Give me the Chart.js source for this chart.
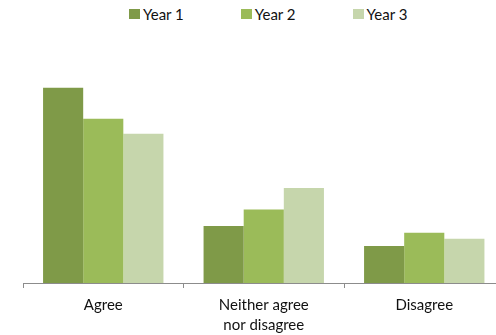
<!DOCTYPE html>
<html>
<head>
<meta charset="utf-8">
<script src="https://cdn.jsdelivr.net/npm/chart.js@4/dist/chart.umd.min.js"></script>
<style>
  html, body { margin: 0; padding: 0; background: #fff; overflow: hidden; }
  body { width: 496px; height: 335px; position: relative; }
  #legend { position: absolute; top: 5px; left: 129px; display: flex; gap: 57px;
            font: 15px Lato, sans-serif; color: #111; }
  #legend .item { display: flex; align-items: center; }
  #legend .box { width: 11px; height: 10px; margin-right: 3px; }
  #wrap { position: absolute; left: 0; top: 0; width: 520px; height: 345px; }
</style>
</head>
<body>
<div id="legend"></div>
<div id="wrap"><canvas id="chart" width="520" height="345"></canvas></div>
<script>
'use strict';

const CATEGORIES = ['Agree', ['Neither agree', 'nor disagree'], 'Disagree'];
const SERIES     = ['Year 1', 'Year 2', 'Year 3'];
const YEAR1      = [67.6, 19.7, 12.8];
const YEAR2      = [56.9, 25.5, 17.4];
const YEAR3      = [51.7, 32.9, 15.3];
const COLORS     = ['#7f9a48', '#9bbb59', '#c6d6ac'];

// ── HTML legend ──────────────────────────────────────────────────────────────

const htmlLegend = {
    id: 'htmlLegend',
    afterUpdate(chart) {
        const box = document.getElementById('legend');
        box.innerHTML = '';
        chart.data.datasets.forEach(ds => {
            const item = document.createElement('div');
            item.className = 'item';
            item.innerHTML = `<span class="box" style="background:${ds.backgroundColor}"></span><span>${ds.label}</span>`;
            box.appendChild(item);
        });
    }
};

// ── Chart ────────────────────────────────────────────────────────────────────

const values = [YEAR1, YEAR2, YEAR3];

new Chart(document.getElementById('chart'), {
    type: 'bar',
    data: {
        labels: CATEGORIES,
        datasets: SERIES.map((name, i) => ({
            label: name,
            data: values[i],
            backgroundColor: COLORS[i],
            borderWidth: 0,
            barPercentage: 1.0,
            categoryPercentage: 0.75,
        }))
    },
    options: {
        responsive: false,
        animation: false,
        layout: { padding: { left: 23, right: 15.5, top: 52, bottom: 3 } },
        plugins: { legend: { display: false }, tooltip: { enabled: false } },
        scales: {
            x: {
                grid: { display: true, drawOnChartArea: false, offset: true, tickLength: 5, color: '#8c8c8c' },
                border: { display: true, color: '#8c8c8c', width: 1 },
                ticks: { color: '#111', padding: 7, font: { family: 'Lato', size: 15, lineHeight: 1.333 } },
            },
            y: { display: false, min: 0, max: 80 },
        }
    },
    plugins: [htmlLegend]
});
</script>
</body>
</html>
